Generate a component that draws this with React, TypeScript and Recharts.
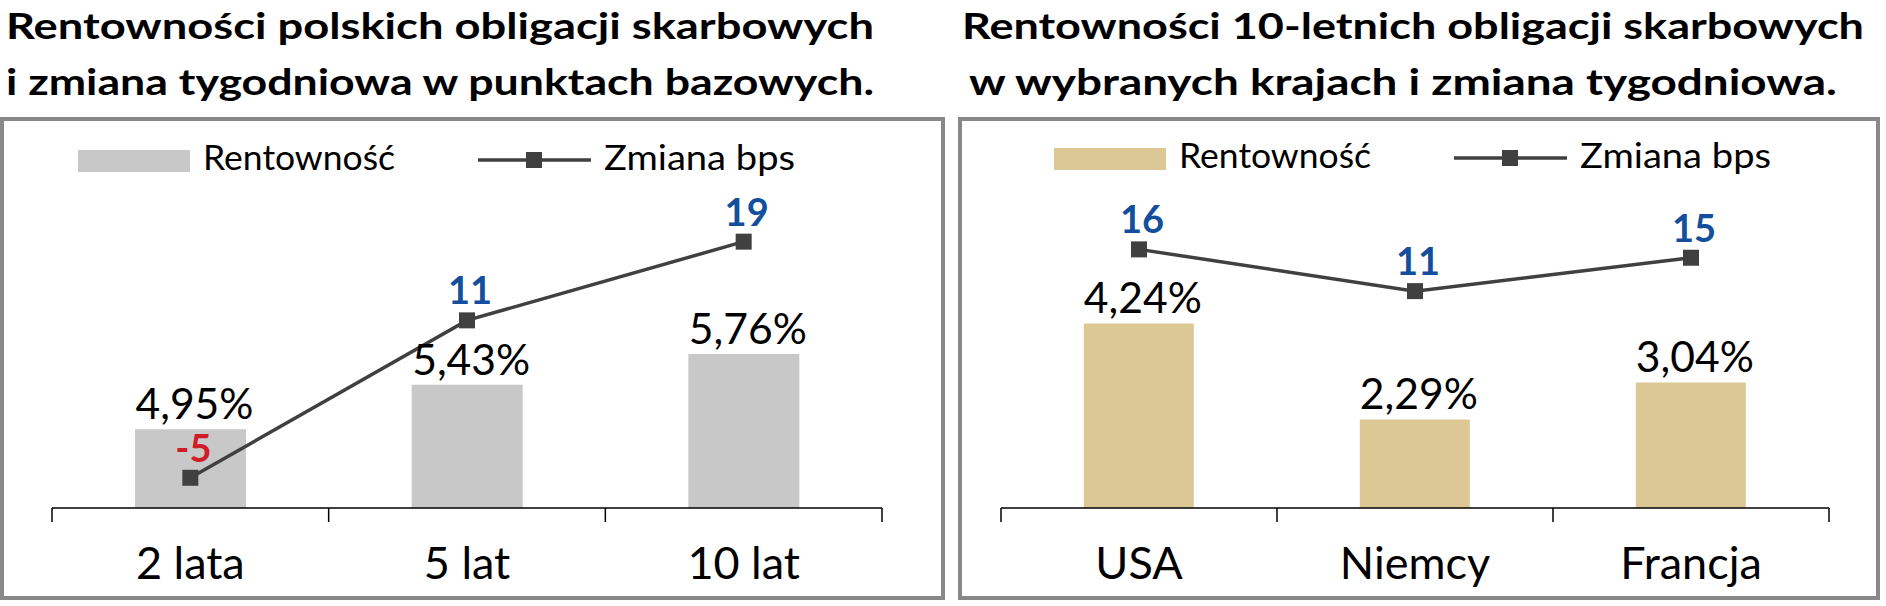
import {
  ComposedChart,
  Bar,
  Line,
  XAxis,
  YAxis,
  LabelList,
} from "recharts";

const plTenors = ["2 lata", "5 lat", "10 lat"];
const plYield = [4.95, 5.43, 5.76];
const plChange = [-5, 11, 19];

const countries = ["USA", "Niemcy", "Francja"];
const countryYield = [4.24, 2.29, 3.04];
const countryChange = [16, 11, 15];

const FONT = 'Lato, "DejaVu Sans", sans-serif';
const LINE = "#404040";
const BLUE = "#134f9c";
const RED = "#d01c28";

const plRows = plTenors.map((name, i) => ({
  name,
  value: plYield[i],
  bps: plChange[i],
}));
const countryRows = countries.map((name, i) => ({
  name,
  value: countryYield[i],
  bps: countryChange[i],
}));

const fmtPct = (v: number) => v.toFixed(2).replace(".", ",") + "%";

function SquareDot(props: any) {
  const { cx, cy, index } = props;
  if (cx == null || cy == null) return null;
  return <rect key={"dot-" + index} x={cx - 8} y={cy - 8} width={16} height={16} fill={LINE} />;
}

// category label plus tick marks on the band edges (Excel style)
function makeCategoryTick(band: number, count: number) {
  return function CategoryTick(props: any) {
    const { x, y, payload, index } = props;
    const left = x - band / 2;
    return (
      <g>
        <line x1={left} x2={left} y1={y} y2={y + 14} stroke="#000" strokeWidth={1.5} />
        {index === count - 1 && (
          <line x1={left + band} x2={left + band} y1={y} y2={y + 14} stroke="#000" strokeWidth={1.5} />
        )}
        <text x={x} y={y + 71} textAnchor="middle" fontSize={45} fontFamily={FONT} fill="#000">
          {payload.value}
        </text>
      </g>
    );
  };
}

function BarValueLabel(props: any) {
  const { x, y, width, value } = props;
  return (
    <text
      x={x + width / 2 + 4}
      y={y - 10}
      textAnchor="middle"
      fontSize={42}
      fontFamily={FONT}
      fill="#000"
      textLength={118}
      lengthAdjust="spacingAndGlyphs"
    >
      {fmtPct(value)}
    </text>
  );
}

function BpsLabel(props: any) {
  const { x, y, value } = props;
  return (
    <text
      x={x + 3}
      y={y - 16}
      textAnchor="middle"
      fontSize={38}
      fontWeight={700}
      fontFamily={FONT}
      fill={value < 0 ? RED : BLUE}
    >
      {value}
    </text>
  );
}

interface PanelProps {
  rows: { name: string; value: number; bps: number }[];
  fill: string;
  left: number;
  margin: { top: number; right: number; bottom: number; left: number };
  barDomain: [number, number];
  bpsDomain: [number, number];
}

function Panel({ rows, fill, left, margin, barDomain, bpsDomain }: PanelProps) {
  const plotWidth = 943 - margin.left - margin.right;
  const Tick = makeCategoryTick(plotWidth / rows.length, rows.length);
  return (
    <div style={{ position: "absolute", left, top: 0 }}>
      <ComposedChart width={943} height={606} data={rows} margin={margin} barCategoryGap="30%">
        <XAxis
          dataKey="name"
          height={98}
          axisLine={{ stroke: "#000", strokeWidth: 1.5 }}
          tickLine={false}
          tickSize={0}
          tickMargin={0}
          interval={0}
          tick={<Tick />}
        />
        <YAxis yAxisId="bar" hide domain={barDomain} allowDataOverflow />
        <YAxis yAxisId="bps" hide orientation="right" domain={bpsDomain} allowDataOverflow />
        <Bar yAxisId="bar" dataKey="value" fill={fill} isAnimationActive={false}>
          <LabelList dataKey="value" content={<BarValueLabel />} />
        </Bar>
        <Line
          yAxisId="bps"
          type="linear"
          dataKey="bps"
          stroke={LINE}
          strokeWidth={3.5}
          dot={<SquareDot />}
          activeDot={false}
          isAnimationActive={false}
        >
          <LabelList dataKey="bps" content={<BpsLabel />} />
        </Line>
      </ComposedChart>
    </div>
  );
}

function LegendItems({ x0, y0, fill }: { x0: number; y0: number; fill: string }) {
  return (
    <g fontFamily={FONT} fontSize={35} fill="#000">
      <rect x={x0} y={y0} width={112} height={22} fill={fill} />
      <text x={x0 + 125} y={y0 + 20} textLength={192} lengthAdjust="spacingAndGlyphs">
        Rentowność
      </text>
      <line x1={x0 + 400} x2={x0 + 513} y1={y0 + 10} y2={y0 + 10} stroke={LINE} strokeWidth={3.5} />
      <rect x={x0 + 448} y={y0 + 2} width={16} height={16} fill={LINE} />
      <text x={x0 + 526} y={y0 + 20} textLength={191} lengthAdjust="spacingAndGlyphs">
        Zmiana bps
      </text>
    </g>
  );
}

export default function App() {
  return (
    <div style={{ position: "absolute", left: 0, top: 0, width: 1886, height: 606, background: "#fff", overflow: "hidden" }}>
      <div
        style={{
          position: "absolute",
          left: 0,
          top: 117,
          width: 945,
          height: 483,
          boxSizing: "border-box",
          border: "4px solid #888",
        }}
      />
      <div
        style={{
          position: "absolute",
          left: 958,
          top: 117,
          width: 922,
          height: 483,
          boxSizing: "border-box",
          border: "4px solid #888",
        }}
      />
      <svg width={1886} height={606} style={{ position: "absolute", left: 0, top: 0 }}>
        <g fontFamily={FONT} fontSize={36} fontWeight={700} fill="#000">
          <text x={6} y={39} textLength={868} lengthAdjust="spacingAndGlyphs">
            Rentowności polskich obligacji skarbowych
          </text>
          <text x={6} y={95} textLength={868} lengthAdjust="spacingAndGlyphs">
            i zmiana tygodniowa w punktach bazowych.
          </text>
          <text x={962} y={39} textLength={902} lengthAdjust="spacingAndGlyphs">
            Rentowności 10-letnich obligacji skarbowych
          </text>
          <text x={969} y={95} textLength={868} lengthAdjust="spacingAndGlyphs">
            w wybranych krajach i zmiana tygodniowa.
          </text>
        </g>
      </svg>
      <Panel
        rows={plRows}
        fill="#c8c8c8"
        left={0}
        margin={{ top: 190, right: 61, bottom: 0, left: 52 }}
        barDomain={[4.1, 7.53]}
        bpsDomain={[-8.07, 24.25]}
      />
      <Panel
        rows={countryRows}
        fill="#dcc894"
        left={943}
        margin={{ top: 190, right: 57, bottom: 0, left: 58 }}
        barDomain={[0.49, 6.95]}
        bpsDomain={[-14.97, 23.11]}
      />
      <svg width={1886} height={606} style={{ position: "absolute", left: 0, top: 0, pointerEvents: "none" }}>
        <LegendItems x0={78} y0={150} fill="#c8c8c8" />
        <LegendItems x0={1054} y0={148} fill="#dcc894" />
      </svg>
    </div>
  );
}
